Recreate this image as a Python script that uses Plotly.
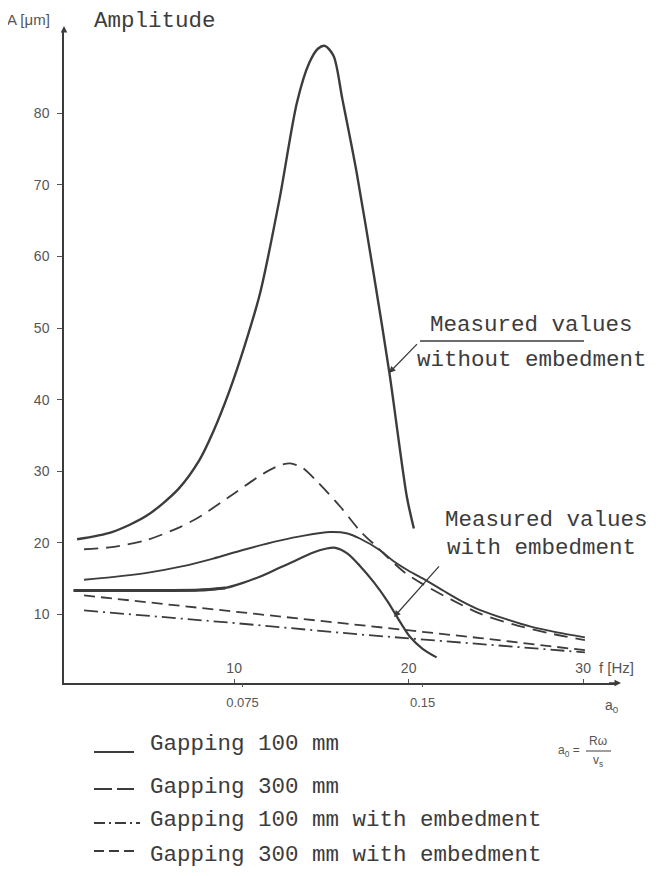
import plotly.graph_objects as go

# ---------------- data ----------------
# Measured values without embedment (solid, tall resonance peak)
meas_free_f = [1.0, 3.0, 5.0, 6.8, 8.0, 8.8, 9.7, 10.6, 11.5, 12.6, 13.6, 14.3, 14.8, 15.2, 15.7, 16.2, 17.0, 18.0, 18.9, 19.9, 20.3]
meas_free_a = [20.5, 21.5, 23.8, 27.5, 31.5, 35.5, 41.0, 47.5, 55.0, 68.0, 81.5, 87.0, 89.0, 89.4, 88.0, 82.0, 72.0, 57.5, 43.7, 26.4, 22.0]

# Gapping 300 mm (long dash)
gap300_f = [1.4, 3.0, 5.0, 6.9, 8.0, 10.0, 11.7, 12.6, 13.2, 13.9, 14.7, 16.1, 17.2, 18.1, 19.7, 20.9, 22.5, 24.1, 26.0, 28.0, 30.1]
gap300_a = [19.1, 19.4, 20.4, 22.2, 23.6, 26.9, 29.7, 30.8, 31.1, 30.5, 28.7, 25.0, 21.7, 19.6, 16.0, 14.1, 12.0, 10.1, 8.6, 7.4, 6.4]

# Gapping 100 mm (solid)
gap100_f = [1.4, 3.0, 5.0, 7.0, 8.8, 10.5, 12.6, 14.0, 15.5, 16.5, 17.2, 18.4, 19.1, 20.0, 21.0, 22.0, 23.0, 24.1, 25.5, 27.0, 28.5, 30.1]
gap100_a = [14.85, 15.2, 15.8, 16.7, 17.8, 19.0, 20.3, 21.0, 21.5, 21.3, 20.6, 18.9, 17.5, 16.1, 14.75, 13.3, 11.9, 10.6, 9.4, 8.3, 7.5, 6.8]

# Measured values with embedment (solid)
meas_emb_f = [0.8, 3.0, 6.0, 8.0, 9.5, 10.5, 11.5, 12.5, 13.5, 14.5, 15.3, 15.8, 16.5, 17.2, 18.0, 18.8, 19.5, 20.1, 20.8, 21.6]
meas_emb_a = [13.35, 13.35, 13.35, 13.4, 13.7, 14.4, 15.3, 16.4, 17.5, 18.6, 19.2, 19.3, 18.5, 16.8, 14.5, 11.8, 9.0, 6.8, 5.2, 4.0]

# Gapping 300 mm with embedment (short dash)
gap300_emb_f = [1.4, 10.0, 17.2, 24.1, 30.1]
gap300_emb_a = [12.65, 10.4, 8.45, 6.7, 5.0]

# Gapping 100 mm with embedment (dash-dot)
gap100_emb_f = [1.4, 10.0, 17.2, 24.1, 30.1]
gap100_emb_a = [10.55, 8.8, 7.2, 5.9, 4.7]

# axes ticks
y_ticks = [10, 20, 30, 40, 50, 60, 70, 80]
f_ticks = [10, 20, 30]
a0_tick_labels = ["0.075", "0.15"]
a0_tick_freq = [10.48, 20.8]   # frequency at which each a0 tick sits

legend_labels = ["Gapping 100 mm", "Gapping 300 mm",
                 "Gapping 100 mm with embedment", "Gapping 300 mm with embedment"]

# ---------------- layout constants (reference pixel coordinates) ----------------
PAGE_OFF = 8                      # default body margin of the html page
WID, HEI = 658 - PAGE_OFF, 876 - 2 * PAGE_OFF
L, R, T, B = 64, 617, 30, 683
W, H = R - L, B - T
X_RANGE = [0.25, 0.25 + W / 17.45]
Y_RANGE = [0.42, 0.42 + H / 7.16]

INK = "#3c3c3c"
GREY = "#555555"
MONO = "Liberation Mono"
SANS = "Liberation Sans"


def PX(x):
    return (x - L) / W


def PY(y):
    return (B - y) / H


fig = go.Figure()


def add_curve(fx, fa, dash="solid", width=2.0, shape="spline"):
    fig.add_trace(go.Scatter(
        x=fx, y=fa, mode="lines",
        line=dict(color=INK, width=width, dash=dash, shape=shape, smoothing=0.8),
        showlegend=False, hoverinfo="skip"))


add_curve(meas_free_f, meas_free_a, width=2.4)
add_curve(gap300_f, gap300_a, dash="14px,8px", width=1.8)
add_curve(gap100_f, gap100_a, width=1.9)
add_curve(meas_emb_f, meas_emb_a, width=2.2)
add_curve(meas_emb_f[:5], meas_emb_a[:5], width=3.0)
add_curve(gap300_emb_f, gap300_emb_a, dash="11px,6px", width=1.8, shape="linear")
add_curve(gap100_emb_f, gap100_emb_a, dash="14px,5px,2px,5px", width=1.8, shape="linear")

# invisible trace to carry the a0 axis
fig.add_trace(go.Scatter(x=a0_tick_freq, y=[5, 5], xaxis="x2", mode="markers",
                         marker=dict(opacity=0), showlegend=False, hoverinfo="skip"))

ann = []
shapes = []


def text(s, x, y, size=22.5, font=MONO, color=INK, xanchor="left"):
    ann.append(dict(text=s, x=PX(x), y=PY(y), xref="paper", yref="paper",
                    xanchor=xanchor, yanchor="middle", showarrow=False,
                    font=dict(family=font, size=size, color=color)))


def seg(x0, y0, x1, y1, width=1.6, dash="solid"):
    shapes.append(dict(type="line", xref="paper", yref="paper",
                       x0=PX(x0), y0=PY(y0), x1=PX(x1), y1=PY(y1),
                       line=dict(color=INK, width=width, dash=dash)))


def arrow(tipx, tipy, tailx, taily):
    ann.append(dict(x=PX(tipx), y=PY(tipy), xref="paper", yref="paper",
                    ax=tailx - tipx, ay=taily - tipy,
                    showarrow=True, arrowhead=2, arrowsize=1, arrowwidth=1.3,
                    arrowcolor=INK, text=" "))


# axis titles
text("A [μm]", 5, 20, size=15, font=SANS, color=GREY)
text("Amplitude", 92, 21)
text("f [Hz]", 597, 667, size=15, font=SANS, color=GREY)
text("a<sub>0</sub>", 603, 706, size=14, font=SANS, color=GREY)

# axis arrows
arrow(621, B, 606, B)
arrow(L, 26, L, 40)

# annotations of measured curves
text("Measured values", 428, 325)
text("without embedment", 415, 360)
seg(420, 341, 584, 341, width=1.4)
arrow(389, 373, 420, 341)

text("Measured values", 443, 520)
text("with embedment", 445, 548)
arrow(394, 617, 442, 563)

# formula a0 = R omega / v_s
text("a<sub>0</sub> =", 582, 751, size=12, font=SANS, color=GREY, xanchor="right")
text("Rω", 598, 741, size=12, font=SANS, color=GREY, xanchor="center")
text("v<sub>s</sub>", 598, 761, size=12, font=SANS, color=GREY, xanchor="center")
seg(586, 751, 611, 751, width=1.0)

# custom legend
legend_y = [744, 787, 820, 855]
for lab, yy in zip(legend_labels, legend_y):
    text(lab, 148, yy)
seg(94, 752, 134, 752, width=1.8)
seg(94, 789, 134, 789, width=1.8, dash="18px,5px")
seg(94, 823, 140, 823, width=1.8, dash="11px,4px,2px,4px")
seg(94, 851, 134, 851, width=1.8, dash="10px,5px")

fig.update_layout(
    width=WID, height=HEI,
    margin=dict(l=L - PAGE_OFF, r=WID - (R - PAGE_OFF), t=T - PAGE_OFF,
                b=HEI - (B - PAGE_OFF), pad=0),
    paper_bgcolor="white", plot_bgcolor="white",
    showlegend=False,
    annotations=ann, shapes=shapes,
    xaxis=dict(range=X_RANGE, showgrid=False, zeroline=False,
               showline=True, linecolor=INK, linewidth=1.5,
               tickvals=f_ticks, ticktext=[str(v) for v in f_ticks],
               ticks="inside", ticklen=4, tickcolor=GREY,
               ticklabelposition="inside", ticklabelstandoff=3,
               tickfont=dict(family=SANS, size=14, color=GREY)),
    xaxis2=dict(range=X_RANGE, overlaying="x", anchor="y", side="bottom",
                showgrid=False, zeroline=False, showline=False,
                tickvals=a0_tick_freq, ticktext=a0_tick_labels,
                ticks="outside", ticklen=3, tickcolor=GREY, ticklabelstandoff=4,
                tickfont=dict(family=SANS, size=13, color=GREY)),
    yaxis=dict(range=Y_RANGE, showgrid=False, zeroline=False,
               showline=True, linecolor=INK, linewidth=1.5,
               tickvals=y_ticks, ticks="outside", ticklen=5, tickcolor=GREY,
               ticklabelstandoff=5,
               tickfont=dict(family=SANS, size=14, color=GREY)),
)

fig.write_html("out.html")
